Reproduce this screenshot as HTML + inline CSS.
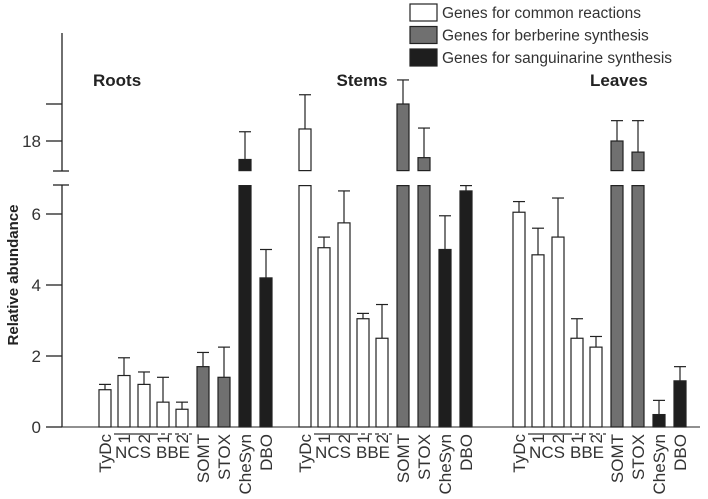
<!DOCTYPE html>
<html><head><meta charset="utf-8"><style>
body{margin:0;background:#fff}
svg{font-family:"Liberation Sans",sans-serif;display:block}
</style></head><body>
<svg id="chart" width="708" height="499" viewBox="0 0 708 499"></svg>
<script>
const categories=["TyDc","NCS1","NCS2","BBE1","BBE2","SOMT","STOX","CheSyn","DBO"];
const kinds=["c","c","c","c","c","b","b","s","s"];
const groups=["Roots","Stems","Leaves"];
const rootsVals=[1.05,1.45,1.2,0.7,0.5,1.7,1.4,17.0,4.2];
const rootsErr=[1.2,1.95,1.55,1.4,0.7,2.1,2.25,18.5,5.0];
const stemsVals=[18.65,5.05,5.75,3.05,2.5,20.0,17.1,5.0,6.65];
const stemsErr=[20.5,5.35,6.65,3.2,3.45,21.3,18.7,5.95,6.8];
const leavesVals=[6.05,4.85,5.35,2.5,2.25,18.0,17.4,0.35,1.3];
const leavesErr=[6.35,5.6,6.45,3.05,2.55,19.1,19.1,0.75,1.7];
const lowTicks=[0,2,4,6];
const highTicks=["18"];
const NS="http://www.w3.org/2000/svg";
const svg=document.getElementById('chart');
function el(t,a,p){const e=document.createElementNS(NS,t);for(const k in a)e.setAttribute(k,a[k]);(p||svg).appendChild(e);return e;}
const yLow=v=>427-v*35.5;
const yHigh=v=>141-(v-18)*18.5;
const LOWMAX=6.8, HIGHMIN=16.4;
function yv(v){return v<=LOWMAX?yLow(v):yHigh(v);}
const fills={c:"#fff",b:"#707070",s:"#1e1e1e"};
const groupStart=[99,299,513];
const offs=[0,19,39,58,77,98,119,140,161];
const BW=12;
el('line',{x1:62,y1:33,x2:62,y2:171,stroke:"#222","stroke-width":1.3});
el('line',{x1:62,y1:185,x2:62,y2:427,stroke:"#222","stroke-width":1.3});
el('line',{x1:62,y1:427,x2:700,y2:427,stroke:"#222","stroke-width":1});
el('line',{x1:53,y1:171,x2:69,y2:171,stroke:"#222","stroke-width":1.3});
el('line',{x1:53,y1:185,x2:69,y2:185,stroke:"#222","stroke-width":1.3});
el('line',{x1:46,y1:104,x2:62,y2:104,stroke:"#222","stroke-width":1.3});
lowTicks.forEach(t=>{const y=yLow(t);
 el('line',{x1:46,y1:y,x2:62,y2:y,stroke:"#222","stroke-width":1.3});
 const tx=el('text',{x:41,y:y+6,"text-anchor":"end","font-size":17,fill:"#333"});tx.textContent=t;
 });
highTicks.forEach(t=>{const y=yHigh(+t);
 el('line',{x1:46,y1:y,x2:62,y2:y,stroke:"#222","stroke-width":1.3});
 const tx=el('text',{x:41,y:y+6,"text-anchor":"end","font-size":17,fill:"#333"});tx.textContent=t;
 });
const yt=el('text',{x:0,y:0,transform:"translate(18,275) rotate(-90)","text-anchor":"middle","font-size":15,"font-weight":"bold",fill:"#222"});
yt.textContent="Relative abundance";

const gl=[[93,"start"],[362,"middle"],[590,"start"]];
groups.forEach((g,i)=>{const t=el('text',{x:gl[i][0],y:86,"text-anchor":gl[i][1],"font-size":17,"font-weight":"bold",fill:"#222"});t.textContent=g;
 });
const allVals=[rootsVals,stemsVals,leavesVals], allErr=[rootsErr,stemsErr,leavesErr];
const xlabels=["TyDc","1","2","1","2","SOMT","STOX","CheSyn","DBO"];
groups.forEach((g,gi)=>{
 categories.forEach((c,i)=>{
  const x=groupStart[gi]+offs[i], v=allVals[gi][i], e=allErr[gi][i], f=fills[kinds[i]];
  const cx=x+BW/2;
  el('line',{x1:cx,y1:yv(e),x2:cx,y2:yv(v),stroke:"#222","stroke-width":1.2});
  el('line',{x1:cx-6,y1:yv(e),x2:cx+6,y2:yv(e),stroke:"#222","stroke-width":1.2});
  let r;
  if(v<=LOWMAX){r=el('rect',{x:x,y:yLow(v),width:BW,height:yLow(0)-yLow(v),fill:f,stroke:"#222","stroke-width":1.2});}
  else{
   r=el('rect',{x:x,y:yLow(LOWMAX),width:BW,height:yLow(0)-yLow(LOWMAX),fill:f,stroke:"#222","stroke-width":1.2});
   const r2=el('rect',{x:x,y:yHigh(v),width:BW,height:yHigh(HIGHMIN)-yHigh(v),fill:f,stroke:"#222","stroke-width":1.2});
   
  }
  
  const t=el('text',{x:0,y:0,transform:`translate(${cx+6},434) rotate(-90)`,"text-anchor":"end","font-size":17,fill:"#333"});
  t.textContent=xlabels[i];
  
 });
 const x0=groupStart[gi];
 el('line',{x1:x0+15,y1:434,x2:x0+55,y2:434,stroke:"#333","stroke-width":1.2});
 el('line',{x1:x0+55,y1:434,x2:x0+93,y2:434,stroke:"#333","stroke-width":1.2,"stroke-dasharray":"4,3"});
 const n=el('text',{x:x0+34,y:458,"text-anchor":"middle","font-size":17,fill:"#333"});n.textContent="NCS";
 
 const b=el('text',{x:x0+74,y:458,"text-anchor":"middle","font-size":17,fill:"#333"});b.textContent="BBE";
 
});
const legend=[["Genes for common reactions","#fff"],["Genes for berberine synthesis","#707070"],["Genes for sanguinarine synthesis","#1e1e1e"]];
legend.forEach((l,i)=>{const y=4+i*22.5;
 const r=el('rect',{x:410,y:y,width:27,height:17,fill:l[1],stroke:"#222","stroke-width":1.2});
 
 const t=el('text',{x:442,y:y+14,"font-size":15.5,fill:"#333"});t.textContent=l[0];
 });
</script>
</body></html>
